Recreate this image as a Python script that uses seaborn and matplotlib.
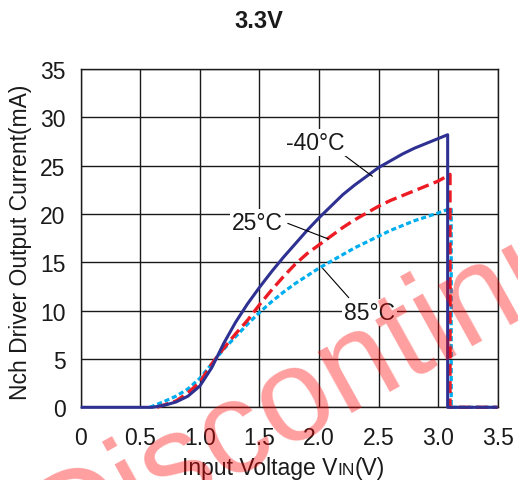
import matplotlib
matplotlib.use("Agg")
import numpy as np
import pandas as pd
import seaborn as sns
import matplotlib.pyplot as plt

# ---------------- data ----------------
vin_m40 = [0, 0.6, 0.7, 0.8, 0.9, 1.0, 1.1, 1.2, 1.3, 1.4, 1.5, 1.6, 1.7, 1.8, 1.9, 2.0, 2.1, 2.2,
           2.3, 2.4, 2.5, 2.6, 2.7, 2.8, 2.9, 3.0, 3.08, 3.08, 3.5]
i_m40 = [0, 0, 0.2, 0.55, 1.15, 2.2, 4.1, 6.6, 8.8, 10.7, 12.4, 14.0, 15.5, 16.9, 18.3, 19.6, 20.8, 22.0,
         23.0, 23.9, 24.8, 25.5, 26.2, 26.8, 27.3, 27.8, 28.2, 0, 0]

vin_25 = [0.64, 0.7, 0.8, 0.9, 1.0, 1.1, 1.2, 1.3, 1.4, 1.5, 1.6, 1.7, 1.8, 1.9, 2.0, 2.1, 2.2,
          2.3, 2.4, 2.5, 2.6, 2.7, 2.8, 2.9, 3.0, 3.10, 3.10, 3.5]
i_25 = [0, 0.25, 0.65, 1.5, 2.6, 4.5, 6.1, 7.6, 9.0, 10.6, 12.1, 13.5, 14.8, 15.9, 16.8, 17.7, 18.6,
        19.4, 20.1, 20.8, 21.4, 21.9, 22.4, 22.9, 23.4, 24.1, 0, 0]

vin_85 = [0.58, 0.7, 0.8, 0.9, 1.0, 1.1, 1.2, 1.3, 1.4, 1.5, 1.6, 1.7, 1.8, 1.9, 2.0, 2.1, 2.2,
          2.3, 2.4, 2.5, 2.6, 2.7, 2.8, 2.9, 3.0, 3.11, 3.11, 3.5]
i_85 = [0, 0.6, 1.15, 1.9, 3.0, 4.5, 6.0, 7.3, 8.6, 9.8, 10.9, 11.9, 12.8, 13.6, 14.4, 15.1, 15.8,
        16.5, 17.1, 17.7, 18.3, 18.8, 19.3, 19.7, 20.1, 20.6, 0, 0]

series_names = ["-40°C", "25°C", "85°C"]
x_ticks = [0, 0.5, 1.0, 1.5, 2.0, 2.5, 3.0, 3.5]
x_tick_labels = ["0", "0.5", "1.0", "1.5", "2.0", "2.5", "3.0", "3.5"]
y_ticks = [0, 5, 10, 15, 20, 25, 30, 35]
y_tick_labels = ["0", "5", "10", "15", "20", "25", "30", "35"]

# annotation layout (label centre, leader start, leader end) in data units
label_pos = {"-40°C": (1.967, 27.4), "25°C": (1.483, 19.07), "85°C": (2.423, 9.83)}
leader_start = {"-40°C": (2.21, 26.1), "25°C": (1.738, 19.03), "85°C": (2.25, 11.34)}
leader_end = {"-40°C": (2.448, 23.9), "25°C": (2.079, 17.41), "85°C": (2.031, 14.38)}

# ---------------- table ----------------
frames = []
for name, xs, ys in zip(series_names, [vin_m40, vin_25, vin_85], [i_m40, i_25, i_85]):
    frames.append(pd.DataFrame({"vin": xs, "iout": ys, "temp": name}))
df = pd.concat(frames, ignore_index=True)

# ---------------- style ----------------
sns.set_style("white")
plt.rcParams["font.family"] = ["Liberation Sans", "DejaVu Sans"]

W, H = 518, 481
fig = plt.figure(figsize=(W / 100, H / 100), dpi=100)
ax = fig.add_axes([80.7 / W, 1 - 408.3 / H, (497.7 - 80.7) / W, (408.3 - 70) / H])

palette = {"-40°C": "#2e3192", "25°C": "#ed1c24", "85°C": "#00aeef"}
dashes = {"-40°C": "", "25°C": (3.6, 1.6), "85°C": (1.6, 0.9)}

sns.lineplot(data=df, x="vin", y="iout", hue="temp", style="temp",
             hue_order=series_names, style_order=series_names,
             palette=palette, dashes=dashes, sort=False, estimator=None,
             units="temp", linewidth=2.2, legend=False, ax=ax)

lws = {"-40°C": 2.2, "25°C": 2.4, "85°C": 2.3}
zorders = {"-40°C": 3.2, "25°C": 3.1, "85°C": 3.0}
for line, name in zip(ax.lines, series_names):
    line.set_linewidth(lws[name])
    line.set_dash_capstyle("butt")
    line.set_solid_capstyle("butt")
    line.set_solid_joinstyle("round")
    line.set_clip_on(False)
    line.set_zorder(zorders[name])

ax.set_xlim(0, 3.5)
ax.set_ylim(0, 35)
ax.set_xticks(x_ticks)
ax.set_xticklabels(x_tick_labels)
ax.set_yticks(y_ticks)
ax.set_yticklabels(y_tick_labels)
ax.tick_params(axis="both", length=0, labelsize=16.5, colors="#1a1a1a")
ax.tick_params(axis="x", pad=13.5)
ax.tick_params(axis="y", pad=11)
ax.grid(True, color="#1a1a1a", linewidth=1.0)
ax.set_axisbelow(True)
for sp in ax.spines.values():
    sp.set_color("#1a1a1a")
    sp.set_linewidth(1.0)

ax.set_xlabel("")
ax.set_ylabel("Nch Driver Output Current(mA)", fontsize=16.5, color="#1a1a1a")
ax.yaxis.set_label_coords(-0.117, 0.49)

# x label with small "IN"
yb = 6 / H
t1 = fig.text(337 / W, yb, "Input Voltage V", ha="right", va="baseline", fontsize=16.5, color="#1a1a1a")
t2 = ax.annotate("IN", xy=(1, yb), xycoords=(t1, "figure fraction"), ha="left", va="baseline",
                 fontsize=12.5, color="#1a1a1a", annotation_clip=False)
t3 = ax.annotate("(V)", xy=(1, yb), xycoords=(t2, "figure fraction"), ha="left", va="baseline",
                 fontsize=16.5, color="#1a1a1a", annotation_clip=False)

# annotations
for name in series_names:
    ax.annotate("", xy=leader_end[name], xytext=leader_start[name],
                arrowprops=dict(arrowstyle="-", lw=0.8, color="black", shrinkA=0, shrinkB=0),
                zorder=4)
    ax.text(*label_pos[name], name, ha="center", va="center", fontsize=16.5, color="#1a1a1a",
            bbox=dict(facecolor="white", edgecolor="none", pad=1.5), zorder=5)

# title
fig.text(0.5, 1 - 21 / H, "3.3V", ha="center", va="center", fontsize=17, fontweight="bold", color="#1a1a1a")

# watermark
fig.text(58 / W, 1 - 570 / H, "Discontinued", ha="left", va="baseline", rotation=29,
         rotation_mode="anchor", fontsize=94, color="red", alpha=0.38, zorder=10)

fig.savefig("out.png", dpi=100)
